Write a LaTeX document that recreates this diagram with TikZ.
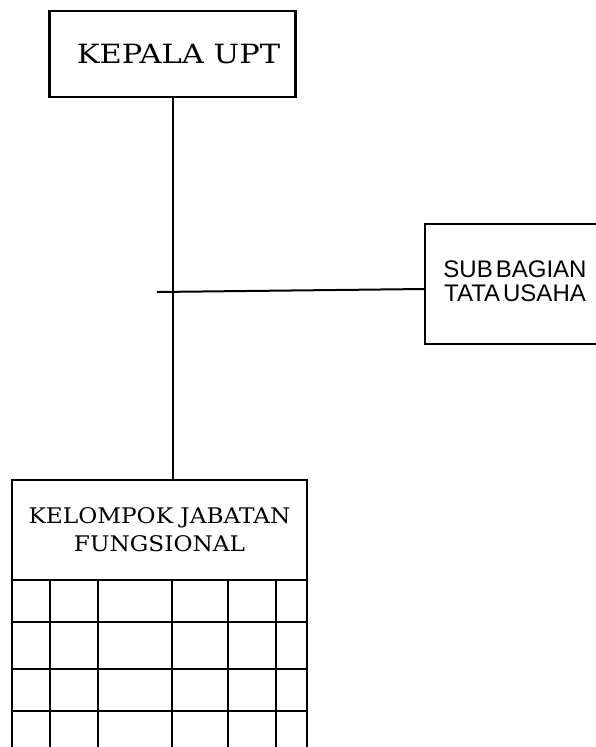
\documentclass[tikz,border=0pt]{standalone}
\usepackage{fontspec}
\newfontfamily\sansA{Liberation Sans}
\newfontfamily\serifA{DejaVu Serif}
\tikzset{
  boxline/.style={draw=black, line width=2.2pt},
  link/.style={draw=black, line width=2pt},
  gridline/.style={draw=black, line width=2.2pt},
}
\begin{document}
\begin{tikzpicture}[x=1pt,y=-1pt]
\useasboundingbox (0,0) rectangle (595,747);
% top box
\node[boxline, minimum width=246pt, minimum height=86pt, inner sep=0pt,
      font=\serifA\fontsize{26.5}{30}\selectfont] (kepala) at (172.5,54)
      {\hspace*{12pt}\scalebox{1.15}[1]{KEPALA UPT}};
% sub bagian box (right side cut by page edge)
\node[boxline, minimum width=180pt, minimum height=120pt, inner sep=0pt, align=center,
      font=\sansA\fontsize{24}{25}\selectfont] (subbag) at (515,284)
      {\raisebox{-2.5pt}{\begin{tabular}{@{}c@{}}SUB\hspace{3pt}BAGIAN\\[-1pt]TATA\hspace{3pt}USAHA\end{tabular}}};
% functional group header
\node[boxline, minimum width=295pt, minimum height=100pt, inner sep=0pt, align=center,
      font=\serifA\fontsize{21.5}{28}\selectfont] (kelompok) at (159.5,530)
      {\scalebox{1.08}[1]{KELOMPOK JABATAN}\\\scalebox{1.08}[1]{FUNGSIONAL}};
% connectors
\coordinate (hl) at (157,292);
\coordinate (hr) at (425,289);
\draw[link] (kepala.south) -- (kelompok.north -| kepala.south);
\draw[link] (hl) -- (hr);
% grid below header
\foreach \x in {12,50,98,172,228,276,307}
  \draw[gridline] (\x,580) -- (\x,760);
\foreach \y in {622,669,711}
  \draw[gridline] (12,\y) -- (307,\y);
\end{tikzpicture}
\end{document}
